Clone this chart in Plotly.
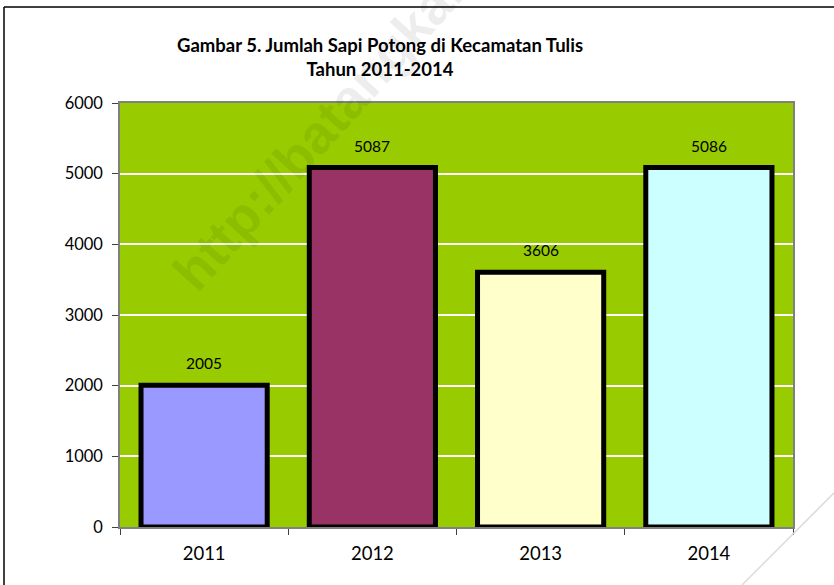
import plotly.graph_objects as go

years = ["2011", "2012", "2013", "2014"]
values = [2005, 5087, 3606, 5086]
bar_colors = ["#9999FF", "#993366", "#FFFFCC", "#CCFFFF"]
y_ticks = [0, 1000, 2000, 3000, 4000, 5000, 6000]
title_lines = ["Gambar 5. Jumlah Sapi Potong di Kecamatan Tulis", "Tahun 2011-2014"]
watermark = "http://batangkab.go.id"

W, H = 834, 585
L, R, T, B = 120, 41, 103, 58
pw, ph = W - L - R, H - T - B


def px(x):
    return (x - L) / pw


def py(y):
    return (H - B - y) / ph


fig = go.Figure()
fig.add_trace(go.Bar(
    x=years, y=values,
    marker=dict(color=bar_colors, line=dict(color="black", width=5)),
    width=0.75,
    hoverinfo="x+y",
))

for i, yv in enumerate(values):
    fig.add_annotation(x=i, y=yv, text=str(yv), showarrow=False,
                       yanchor="bottom", yshift=11,
                       font=dict(family="Lato", size=15.5, color="black"))

fig.add_annotation(xref="paper", yref="paper", x=px(380), y=py(57),
                   text="<b>" + title_lines[0] + "<br>" + title_lines[1] + "</b>",
                   showarrow=False, xanchor="center", yanchor="middle",
                   font=dict(family="Lato", size=18.5, color="black"))

# faint watermark
fig.add_annotation(xref="paper", yref="paper", x=px(372), y=py(72),
                   text="<b>" + watermark + "</b>", textangle=-48,
                   showarrow=False, xanchor="center", yanchor="middle",
                   font=dict(family="Liberation Sans", size=54, color="rgba(0,0,0,0.07)"))

# outer frame lines
fig.add_shape(type="line", xref="paper", yref="paper",
              x0=px(4), y0=py(7), x1=px(834), y1=py(7),
              line=dict(color="black", width=1.5))
fig.add_shape(type="line", xref="paper", yref="paper",
              x0=px(4), y0=py(7), x1=px(4), y1=py(585),
              line=dict(color="black", width=1.5))
fig.add_shape(type="line", xref="paper", yref="paper",
              x0=px(834), y0=py(493), x1=px(742), y1=py(585),
              line=dict(color="#d9d9d9", width=1.5))

fig.update_layout(
    width=W, height=H,
    margin=dict(l=L, r=R, t=T, b=B),
    paper_bgcolor="white",
    plot_bgcolor="#99CC00",
    showlegend=False,
    xaxis=dict(
        type="category",
        categoryorder="array", categoryarray=years,
        range=[-0.5, len(years) - 0.5],
        showgrid=False,
        ticks="outside", ticklen=6, tickcolor="#404040",
        tickson="boundaries",
        showline=True, linecolor="#808080", linewidth=1.5,
        mirror=True,
        ticklabelstandoff=9,
        tickfont=dict(family="Lato", size=18.5, color="black"),
    ),
    yaxis=dict(
        range=[0, 6000],
        tickvals=y_ticks,
        ticktext=[str(v) for v in y_ticks],
        showgrid=True, gridcolor="white", gridwidth=2,
        zeroline=False,
        ticks="outside", ticklen=6, tickcolor="#404040",
        showline=True, linecolor="#808080", linewidth=1.5,
        mirror=True,
        ticklabelstandoff=6,
        tickfont=dict(family="Lato", size=16.5, color="black"),
    ),
)

fig.write_html("out.html")
